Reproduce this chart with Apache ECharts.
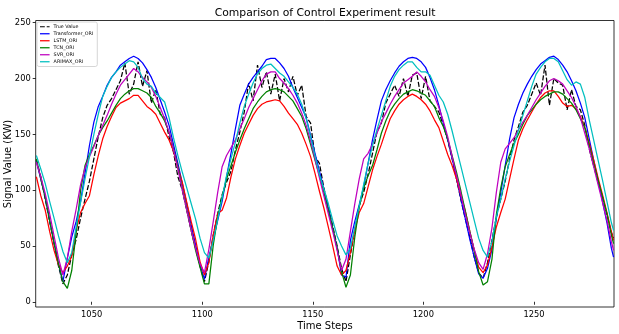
<!DOCTYPE html>
<html><head><meta charset="utf-8">
<script src="https://cdn.jsdelivr.net/npm/echarts@6/dist/echarts.min.js"></script>
<style>html,body{margin:0;padding:0;background:#fff}#c{width:619px;height:334px}</style>
</head><body><div id="c"></div>
<script>
// x positions (time steps) — every second step, plus the last one
const steps = [];
for (let s = 1025; s <= 1285; s += 2) steps.push(s);
steps.push(1286);

const seriesNames = ['True Value','Transformer_ORI','LSTM_ORI','TCN_ORI','SVR_ORI','ARIMAX_ORI'];
const xTicks = [1050,1100,1150,1200,1250];
const yTicks = [0,50,100,150,200,250];

const trueValue = [
127,112,92,72,52,32,16,24,42,56,
75,92,108,128,148,165,176,182,190,198,
214,186,195,215,193,207,178,190,168,165,
148,134,112,100,82,64,48,32,18,36,
60,79,96,107,117,136,152,170,196,180,
212,192,206,186,204,180,200,188,202,185,
194,166,160,130,124,102,85,68,50,30,
18,42,64,86,98,114,133,152,160,178,
186,194,184,200,184,203,205,182,202,180,
175,170,158,145,128,110,91,74,58,40,
26,21,35,55,76,92,108,128,145,157,
170,176,186,196,185,212,176,200,196,194,
172,190,175,172,158,137,122,107,94,78,
62,57];

const transformer = [
126,110,94,73,53,34,18,39,58,72,
90,115,140,161,175,184,194,201,206,212,
215,218,220,218,214,208,201,192,181,170,
158,141,124,106,88,69,51,33,20,40,
56,73,90,112,133,155,176,186,195,201,
206,211,217,218,218,214,209,202,192,183,
174,165,149,133,117,101,84,66,48,24,
22,55,72,87,103,124,145,163,180,190,
198,205,211,215,218,219,218,215,210,201,
190,176,160,145,129,110,92,74,56,40,
25,21,30,47,75,98,122,146,165,177,
187,195,202,208,213,216,219,220,217,212,
206,198,189,178,165,146,127,109,90,71,
48,40];

const lstm = [
112,95,82,63,46,33,26,32,41,64,
80,88,95,114,131,146,157,166,174,178,
180,182,185,185,180,175,172,168,160,152,
145,135,120,107,89,72,56,36,24,35,
60,79,82,93,112,128,140,151,159,167,
173,177,179,180,181,180,175,169,164,159,
151,141,130,115,99,84,67,50,32,24,
28,44,64,80,88,103,118,130,141,153,
164,171,177,181,184,186,184,181,177,171,
163,156,144,132,122,110,95,81,63,46,
31,26,33,49,67,80,92,110,128,145,
155,163,170,177,183,187,189,189,184,178,
175,176,173,166,156,142,127,111,96,80,
63,55];

const tcn = [
128,110,94,73,53,34,18,12,28,62,
100,122,132,140,149,156,162,169,176,182,
186,189,191,191,189,187,183,175,169,162,
152,137,121,101,83,64,46,31,16,16,
51,76,94,110,122,134,145,155,164,173,
179,184,188,190,191,190,188,184,180,173,
166,155,141,127,113,98,82,66,48,27,
13,24,58,85,102,113,122,136,151,162,
171,177,182,186,188,190,189,187,185,180,
175,165,157,146,131,116,99,81,63,46,
27,15,18,38,78,102,121,132,142,150,
159,167,172,177,181,184,186,188,188,186,
182,178,172,164,156,140,124,109,94,79,
60,52];

const svr = [
125,112,97,79,59,39,24,39,63,83,
105,120,130,139,149,158,167,177,186,194,
199,204,209,206,201,197,192,184,174,164,
152,136,119,100,82,64,48,34,26,47,
72,98,121,131,138,145,155,164,174,182,
190,198,204,206,206,200,196,191,185,178,
169,158,144,128,111,95,79,63,46,28,
38,63,88,110,128,133,141,151,161,169,
177,184,190,196,199,202,206,202,197,190,
184,174,162,148,130,113,96,78,62,47,
35,29,43,66,98,125,137,142,147,154,
161,167,174,181,187,193,198,200,198,195,
189,183,175,165,151,137,121,105,89,73,
54,46];

const arimax = [
131,119,106,90,75,59,45,35,44,67,
89,110,130,150,168,184,193,201,206,210,
213,216,215,210,200,195,193,187,183,179,
165,147,131,116,102,88,74,57,44,39,
55,74,93,113,128,143,160,175,186,196,
204,209,212,213,209,205,202,197,192,186,
177,164,148,131,114,101,88,73,59,50,
42,48,67,86,105,124,140,154,167,180,
193,202,208,212,215,215,210,206,206,203,
194,185,179,168,153,137,121,105,89,73,
57,46,40,54,76,92,110,126,140,154,
167,180,193,204,210,215,218,218,215,207,
199,194,197,195,183,163,145,127,109,90,
71,64];

const values = [trueValue, transformer, lstm, tcn, svr, arimax];
const colors = ['#000000','#0000ff','#ff0000','#008000','#bf00bf','#00bfbf'];
const FONT = 'DejaVu Sans';
const DASH_ICON = 'path://M0,0h5v1h-5z M7,0h3v1h-3z';

const chart = echarts.init(document.getElementById('c'), null, {renderer: 'canvas'});
const series = seriesNames.map((name, k) => ({
  name: name,
  type: 'line',
  data: steps.map((s, i) => [s, values[k][i]]),
  symbol: 'none',
  showSymbol: false,
  smooth: false,
  color: colors[k],
  lineStyle: {width: 1.25, color: colors[k], type: k === 0 ? [5, 2] : 'solid'},
  emphasis: {disabled: true},
  z: 2 + k
}));

chart.setOption({
  animation: false,
  backgroundColor: '#fff',
  grid: {left: 35.7, right: 5, top: 20.5, bottom: 27, show: true, borderColor: '#000', borderWidth: 0.8, backgroundColor: 'transparent'},
  xAxis: {
    type: 'value', min: 1024.7, max: 1286.2,
    axisLine: {show: false},
    splitLine: {show: false},
    axisTick: {show: true, length: 3, customValues: xTicks, lineStyle: {color: '#000', width: 0.8}},
    axisLabel: {customValues: xTicks, margin: 4, fontSize: 8.3, fontFamily: FONT, color: '#000', formatter: v => String(v)}
  },
  yAxis: {
    type: 'value', min: -4.7, max: 252,
    axisLine: {show: false},
    splitLine: {show: false},
    axisTick: {show: true, length: 3, customValues: yTicks, lineStyle: {color: '#000', width: 0.8}},
    axisLabel: {customValues: yTicks, margin: 5, fontSize: 8.3, fontFamily: FONT, color: '#000', formatter: v => String(v)}
  },
  legend: {
    orient: 'vertical', left: 37, top: 22,
    itemWidth: 9.6, itemHeight: 1.25, itemGap: 1.5,
    padding: [2, 4, 2, 3],
    backgroundColor: 'rgba(255,255,255,0.8)', borderColor: '#cccccc', borderWidth: 0.8, borderRadius: 2,
    textStyle: {fontSize: 4.8, lineHeight: 5.5, fontFamily: FONT, color: '#000', padding: [0, 0, 0, -1]},
    data: seriesNames.map((n, k) => ({name: n, icon: k === 0 ? DASH_ICON : 'rect'})),
    selectedMode: false,
    z: 10
  },
  graphic: [
    {type: 'text', x: 325, y: 13, style: {text: 'Comparison of Control Experiment result', font: '10.8px "DejaVu Sans"', fill: '#000', textAlign: 'center', textVerticalAlign: 'middle'}},
    {type: 'text', x: 325, y: 326, style: {text: 'Time Steps', font: '10px "DejaVu Sans"', fill: '#000', textAlign: 'center', textVerticalAlign: 'middle'}},
    {type: 'text', x: 8, y: 164, rotation: Math.PI / 2, style: {text: 'Signal Value (KW)', font: '10px "DejaVu Sans"', fill: '#000', textAlign: 'center', textVerticalAlign: 'middle'}}
  ],
  series: series
});
</script>
</body></html>
